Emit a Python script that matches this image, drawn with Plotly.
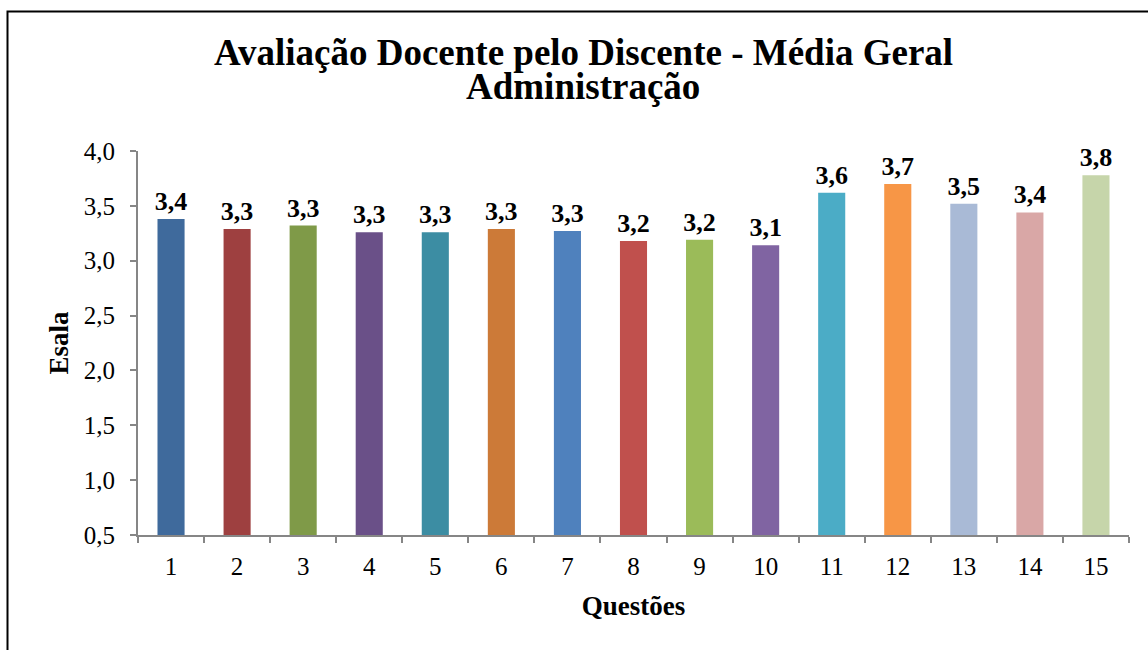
import plotly.graph_objects as go

questoes = [str(i) for i in range(1, 16)]
medias = [3.38, 3.29, 3.32, 3.26, 3.26, 3.29, 3.27, 3.18, 3.19, 3.14, 3.62, 3.70, 3.52, 3.44, 3.78]
rotulos = ["3,4", "3,3", "3,3", "3,3", "3,3", "3,3", "3,3", "3,2", "3,2", "3,1", "3,6", "3,7", "3,5", "3,4", "3,8"]
cores = ["#3F6A9C", "#9E4040", "#7F9A48", "#6A5088", "#3C8DA3", "#CC7A38", "#4F81BD",
         "#C0504D", "#9BBB59", "#8064A2", "#4BACC6", "#F79646", "#A9BAD6", "#D9A7A6", "#C6D5AA"]
y_ticks = [0.5, 1.0, 1.5, 2.0, 2.5, 3.0, 3.5, 4.0]
titulo_1 = "Avaliação Docente pelo Discente - Média Geral"
titulo_2 = "Administração"

FONT = "Liberation Serif, Times New Roman, serif"
BASE = 0.5

fig = go.Figure(go.Bar(
    x=questoes, y=[v - BASE for v in medias], base=BASE,
    marker_color=cores, marker_line_width=0,
    text=rotulos, textposition="outside", cliponaxis=False, constraintext="none",
    textfont=dict(family=FONT, size=26, color="black", weight="bold"),
    hovertemplate="%{x}: %{customdata}<extra></extra>", customdata=medias,
))

fig.update_layout(
    width=1148, height=650,
    margin=dict(l=138, r=19, t=151, b=115),
    paper_bgcolor="white", plot_bgcolor="white",
    separators=",.",
    bargap=0.59,
    showlegend=False,
    font=dict(family=FONT, color="black"),
    xaxis=dict(
        type="category", showline=True, linecolor="#868686", linewidth=2,
        ticks="outside", tickson="boundaries", ticklen=6, tickcolor="#868686", tickwidth=2,
        tickfont=dict(family=FONT, size=25, color="black"), ticklabelstandoff=8,
        title=dict(text="<b>Questões</b>", font=dict(family=FONT, size=27, color="black"), standoff=17),
        showgrid=False,
    ),
    yaxis=dict(
        range=[0.5, 4.0], tickvals=y_ticks, tickformat=".1f",
        showline=True, linecolor="#868686", linewidth=2,
        ticks="outside", ticklen=6, tickcolor="#868686", tickwidth=2,
        tickfont=dict(family=FONT, size=25, color="black"), ticklabelstandoff=10,
        title=dict(text="<b>Esala</b>", font=dict(family=FONT, size=27, color="black"), standoff=7),
        showgrid=False, zeroline=False,
    ),
)

def py(pixel_y):
    return (535 - pixel_y) / 384.0

fig.add_annotation(text="<b>%s</b>" % titulo_1, xref="paper", yref="paper",
                   x=(583 - 138) / 991.0, y=py(52), xanchor="center", yanchor="middle",
                   showarrow=False, font=dict(family=FONT, size=37, color="black"))
fig.add_annotation(text="<b>%s</b>" % titulo_2, xref="paper", yref="paper",
                   x=(583 - 138) / 991.0, y=py(87), xanchor="center", yanchor="middle",
                   showarrow=False, font=dict(family=FONT, size=37, color="black"))

fig.add_shape(type="rect", xref="paper", yref="paper",
              x0=(7.5 - 138) / 991.0, x1=1.03, y0=-0.32, y1=py(11.5),
              line=dict(color="black", width=2), fillcolor="rgba(0,0,0,0)", layer="above")

fig.write_html("out.html", config={"displayModeBar": False},
               post_script="document.body.style.margin='0';document.body.style.overflow='hidden';")
